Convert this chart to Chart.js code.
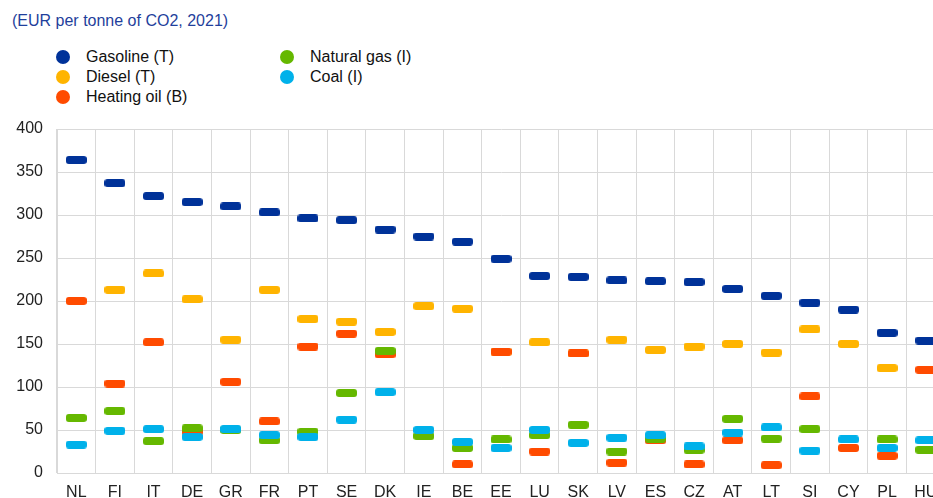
<!DOCTYPE html>
<html>
<head>
<meta charset="utf-8">
<script src="https://cdn.jsdelivr.net/npm/chart.js@4"></script>
<style>
  html, body { margin: 0; padding: 0; overflow: hidden; background: #fff; }
  body { width: 933px; height: 498px; position: relative; font-family: "Liberation Sans", Arial, sans-serif; }
  #title { position: absolute; left: 12px; top: 12px; font-size: 16px; color: #1f3f9c; white-space: nowrap; }
  #legend { position: absolute; left: 0; top: 0; font-size: 16px; color: #111; }
  .lg { position: absolute; white-space: nowrap; line-height: 20px; }
  .lg i { position: absolute; left: -30px; top: 3px; width: 14px; height: 14px; border-radius: 50%; }
  #wrap { position: absolute; left: 0; top: 0; width: 950px; height: 498px; }
</style>
</head>
<body>
<div id="title">(EUR per tonne of CO2, 2021)</div>
<div id="legend"></div>
<div id="wrap"><canvas id="ch"></canvas></div>
<script>
'use strict';
// ── data (EUR per tonne of CO2, 2021) ──────────────────────────────────────
const countries = ['NL','FI','IT','DE','GR','FR','PT','SE','DK','IE','BE','EE','LU','SK','LV','ES','CZ','AT','LT','SI','CY','PL','HU'];
const gasoline   = [364,337,322,315,310,303,296,294,283,275,269,249,229,228,224,223,222,214,206,198,190,163,154];
const diesel     = [null,213,232,202,155,213,179,176,164,194,191,141,152,139,155,143,147,150,140,167,150,122,null];
const heatingOil = [200,104,152,48,106,60,147,162,138,null,10,141,25,139,12,38,10,38,9,89,29,20,120];
const naturalGas = [64,72,37,52,50,38,48,93,142,43,29,39,44,56,25,40,27,63,40,51,null,39,27];
const coal       = [33,49,51,42,51,44,42,62,94,50,36,29,50,35,41,44,31,47,53,26,39,29,38];
const yTicks = [0,50,100,150,200,250,300,350,400];

const SERIES = [
  { label: 'Gasoline (T)',    data: gasoline,   color: '#003299' },
  { label: 'Diesel (T)',      data: diesel,     color: '#ffb400' },
  { label: 'Heating oil (B)', data: heatingOil, color: '#ff4b00' },
  { label: 'Natural gas (I)', data: naturalGas, color: '#65b800' },
  { label: 'Coal (I)',        data: coal,       color: '#00b1ea' }
];

// little rounded dash used as the point marker
function dash(color) {
  const c = document.createElement('canvas');
  c.width = 21; c.height = 8;
  const g = c.getContext('2d');
  g.fillStyle = color;
  g.beginPath();
  g.roundRect(0, 0, 21, 8, 3);
  g.fill();
  return c;
}

// html legend, two columns
const LG_POS = [[86,47],[86,67],[86,87],[310,47],[310,67]];
document.getElementById('legend').innerHTML = SERIES.map((s,i) =>
  `<div class="lg" style="left:${LG_POS[i][0]}px;top:${LG_POS[i][1]}px"><i style="background:${s.color}"></i>${s.label}</div>`
).join('');

const GRID = '#d9d9d9';
new Chart(document.getElementById('ch'), {
  type: 'line',
  data: {
    labels: countries,
    // later series sit on top (coal over gas over heating oil ...)
    datasets: SERIES.map((s,i) => ({
      label: s.label, data: s.data, showLine: false, order: SERIES.length - i,
      pointStyle: dash(s.color), borderColor: s.color, backgroundColor: s.color
    }))
  },
  options: {
    responsive: true, maintainAspectRatio: false, animation: false, events: [],
    layout: { padding: { top: 129, right: 0, bottom: 0, left: 0 } },
    plugins: { legend: { display: false }, tooltip: { enabled: false } },
    scales: {
      x: {
        offset: true,
        grid: { offset: true, color: GRID, drawTicks: false },
        border: { color: GRID },
        ticks: { color: '#222', font: { family: 'Liberation Sans', size: 16 }, padding: 10, maxRotation: 0, autoSkip: false },
        afterFit: s => { s.height = 25; }
      },
      y: {
        min: 0, max: 400,
        afterBuildTicks: s => { s.ticks = yTicks.map(v => ({ value: v })); },
        grid: { color: GRID, drawTicks: false },
        border: { color: GRID },
        ticks: { color: '#222', font: { family: 'Liberation Sans', size: 16 }, padding: 14 },
        afterFit: s => { s.width = 57; }
      }
    }
  }
});
</script>
</body>
</html>
